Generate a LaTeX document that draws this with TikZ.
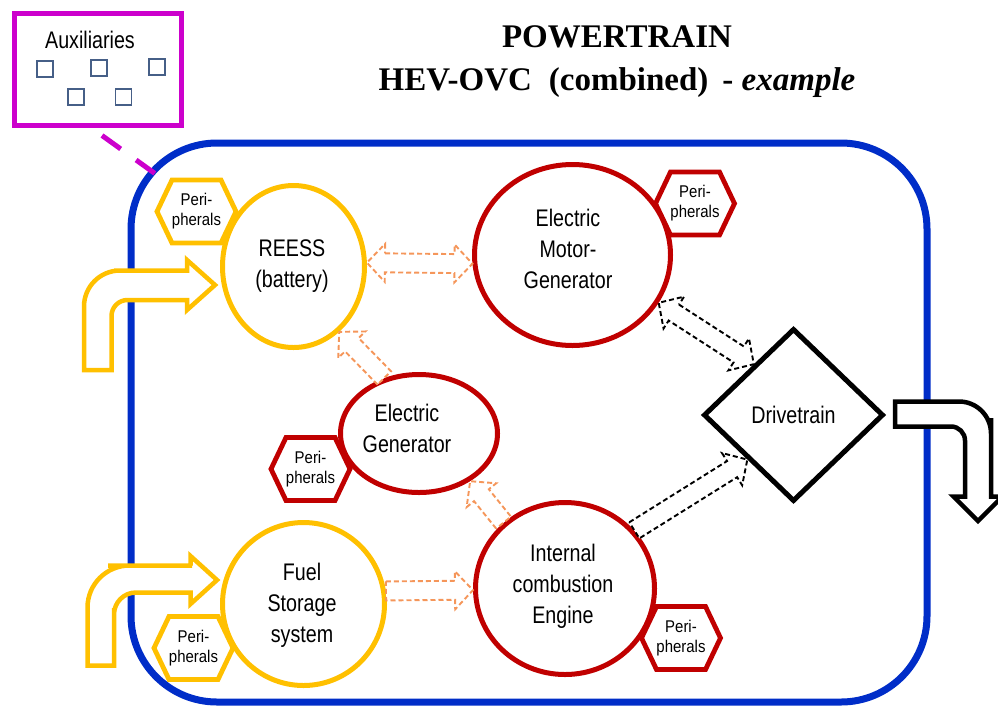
\documentclass[tikz,border=0pt]{standalone}
\usepackage{fontspec}
\setmainfont{Liberation Serif}
\newfontfamily\labfont[FakeStretch=0.82]{Liberation Sans}
\newfontfamily\perfont[FakeStretch=0.88]{Liberation Sans}
\usetikzlibrary{shapes.geometric,calc}
\definecolor{yellowc}{RGB}{255,192,0}
\definecolor{redc}{RGB}{192,0,0}
\definecolor{bluec}{RGB}{0,45,200}
\definecolor{magc}{RGB}{204,0,204}
\definecolor{orangec}{RGB}{245,150,90}
\definecolor{sqc}{RGB}{70,95,135}
\tikzset{
  bubble/.style={draw, ellipse, line width=5pt, fill=white, inner sep=0pt},
  lbl/.style={font=\labfont\fontsize{24}{31}\selectfont, align=center, inner sep=0pt, text=black},
  perlbl/.style={font=\perfont\fontsize{17}{20}\selectfont, align=center, inner sep=0pt, outer sep=0pt, minimum width=79pt, minimum height=63pt},
  hexline/.style={line width=4.8pt, line join=miter},
  blk/.style={line width=1.9pt, dash pattern=on 5pt off 3pt, fill=white, line join=miter},
  bentarrow/.style={line width=4.5pt, fill=white, line join=miter},
  sqbox/.style={draw=sqc, line width=1.6pt, minimum size=16pt, inner sep=0pt},
  titletext/.style={font=\fontsize{33}{39}\selectfont\bfseries, inner sep=0pt, anchor=base},
}
\def\arrlen{18pt}
\def\arrhw{9.5pt}
\def\arrhh{19pt}
\newcommand\hexa[2]{%
  \draw[hexline,draw=#2] (#1.west) -- ([xshift=15pt]#1.north west) -- ([xshift=-15pt]#1.north east) -- (#1.east) -- ([xshift=-15pt]#1.south east) -- ([xshift=15pt]#1.south west) -- cycle;}
\newcommand\blockone[3]{%
  \coordinate (hb) at ($(#3)!\arrlen!(#2)$);
  \draw[blk,draw=#1] ($(#2)!\arrhw!90:(#3)$) -- ($(hb)!\arrhw!90:(#3)$) -- ($(hb)!\arrhh!90:(#3)$) -- (#3) -- ($(hb)!\arrhh!-90:(#3)$) -- ($(hb)!\arrhw!-90:(#3)$) -- ($(#2)!\arrhw!-90:(#3)$) -- cycle;}
\newcommand\blocktwo[3]{%
  \coordinate (ha) at ($(#2)!\arrlen!(#3)$);
  \coordinate (hb) at ($(#3)!\arrlen!(#2)$);
  \draw[blk,draw=#1] ($(ha)!\arrhw!90:(#3)$) -- ($(hb)!\arrhw!90:(#3)$) -- ($(hb)!\arrhh!90:(#3)$) -- (#3) -- ($(hb)!\arrhh!-90:(#3)$) -- ($(hb)!\arrhw!-90:(#3)$) -- ($(ha)!\arrhw!-90:(#3)$) -- ($(ha)!\arrhh!-90:(#3)$) -- (#2) -- ($(ha)!\arrhh!90:(#3)$) -- cycle;}
\begin{document}
\begin{tikzpicture}[x=1pt,y=-1pt]
\useasboundingbox (0,0) rectangle (998,705);
\clip (0,0) rectangle (998,705);
% powertrain frame
\node[draw=bluec, line width=7pt, rounded corners=86pt, minimum width=796pt, minimum height=559pt, inner sep=0pt] (pt) at (529,422.5) {};
% auxiliaries
\node[draw=magc, line width=5pt, minimum width=167pt, minimum height=112pt, inner sep=0pt] (aux) at (98,69.5) {};
\node[lbl, anchor=base] (auxlbl) at (90,48) {Auxiliaries};
\node[sqbox] (s1) at (44.7,68.7) {};
\node[sqbox] (s2) at (98.7,68) {};
\node[sqbox] (s3) at (157,66.7) {};
\node[sqbox] (s4) at (75.8,97.2) {};
\node[sqbox] (s5) at (123.5,97.2) {};
\coordinate (m1) at (102,135.5);
\coordinate (m2) at (157,175);
\draw[magc, line width=5pt, dash pattern=on 23pt off 19pt] (m1) -- (m2);
% title
\node[titletext] (t1) at (617,47) {POWERTRAIN};
\node[titletext] (t2) at (617,90) {HEV-OVC\hspace{17pt}(combined)\hspace{14pt}- \textit{example}};
% peripherals
\node[perlbl] (hr) at (196.5,211.5) {Peri-\\pherals};
\node[perlbl] (hm) at (695,203.5) {Peri-\\pherals};
\node[perlbl] (hg) at (310.5,469) {Peri-\\pherals};
\node[perlbl] (hf) at (193.5,648) {Peri-\\pherals};
\node[perlbl] (hi) at (681,638) {Peri-\\pherals};
\hexa{hr}{yellowc}
\hexa{hm}{redc}
\hexa{hg}{redc}
\hexa{hf}{yellowc}
\hexa{hi}{redc}
% components
\node[bubble, draw=yellowc, minimum width=142pt, minimum height=162pt] (reess) at (293.5,266.5) {};
\node[bubble, draw=redc, minimum width=196pt, minimum height=181pt] (emg) at (572.5,255) {};
\node[bubble, draw=redc, minimum width=157pt, minimum height=118pt] (eg) at (419,433.5) {};
\node[bubble, draw=redc, minimum width=179pt, minimum height=172pt] (ice) at (565,588.5) {};
\node[bubble, draw=yellowc, minimum width=162pt, minimum height=163pt] (fuel) at (303.5,604) {};
\node[draw, diamond, line width=5pt, minimum width=180pt, minimum height=173pt, inner sep=0pt, font=\labfont\fontsize{24}{31}\selectfont] (dt) at (793.5,415) {Drivetrain};
\node[lbl] (reesslbl) at (292,266) {REESS\\(battery)};
\node[lbl] (emglbl) at (568,249) {Electric\\Motor-\\Generator};
\node[lbl] (eglbl) at (407,428) {Electric\\Generator};
\node[lbl] (fuellbl) at (302,605) {Fuel\\Storage\\system};
\node[lbl] (icelbl) at (563,586) {Internal\\combustion\\Engine};
% energy flows
\blocktwo{orangec}{reess.3}{emg.185}
\blockone{orangec}{eg.122}{reess.305}
\blockone{orangec}{ice.133}{eg.317}
\blockone{orangec}{fuel.9}{ice.181}
\blocktwo{black}{emg.331}{dt.128}
\blockone{black}{ice.40}{dt.224}
% input arrows
\draw[bentarrow, draw=yellowc] (84,370) [rounded corners=36pt] -- (84,270.5) -- (150,270.5) [sharp corners] -- (187,270.5) -- (187,260) -- (215,285) -- (187,310) -- (187,300) -- (140,300) [rounded corners=16pt] -- (111.5,300) -- (111.5,340) [sharp corners] -- (111.5,370) -- cycle;
\draw[bentarrow, draw=yellowc] (87.5,665.5) [rounded corners=42pt] -- (87.5,565.5) -- (150,565.5) [sharp corners] -- (190.5,565.5) -- (190.5,556) -- (217,580) -- (190.5,604) -- (190.5,592.5) -- (140,592.5) [rounded corners=22pt] -- (114,592.5) -- (114,630) [sharp corners] -- (114,665.5) -- cycle;
% output arrow
\draw[bentarrow, draw=black] (895,401.5) -- (940,401.5) [rounded corners=32pt] -- (991,401.5) -- (991,450) [sharp corners] -- (991,496.5) -- (1002.5,496.5) -- (978,521) -- (953.5,496.5) -- (965,496.5) -- (965,460) [rounded corners=14pt] -- (965,426.5) -- (930,426.5) [sharp corners] -- (895,426.5) -- cycle;
\end{tikzpicture}
\end{document}
